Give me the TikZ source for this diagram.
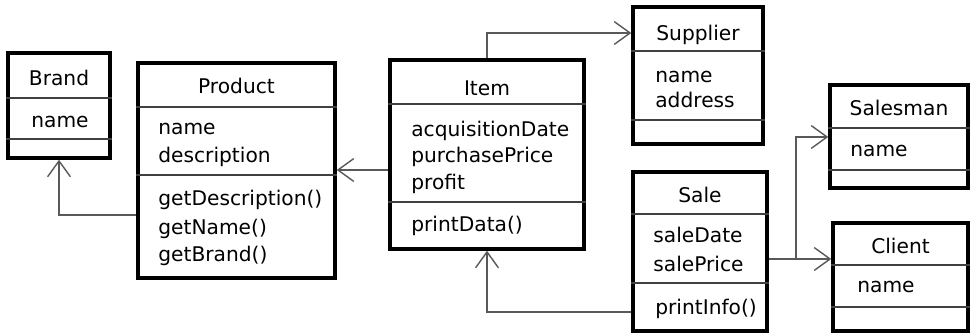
\documentclass[tikz,border=0pt]{standalone}
\usepackage{fontspec}
\setmainfont{DejaVu Sans}
\usetikzlibrary{arrows.meta,fit}

\tikzset{
  cls/.style={draw=black, line width=2pt, inner sep=0pt},
  sep/.style={draw=black!75, line width=0.6pt},
  assoc/.style={draw=black!65, line width=0.8pt,
    -{Straight Barb[length=9pt,width=13pt,line width=0.8pt]}},
  ttl/.style={anchor=base, inner sep=0pt, font=\fontsize{11.5}{13}\selectfont},
  entry/.style={anchor=base west, inner sep=0pt, font=\fontsize{11.5}{13}\selectfont},
}

\begin{document}
\begin{tikzpicture}[x=0.02cm,y=-0.02cm] % Klassendiagramm Warenverkauf
	\useasboundingbox (0,0) rectangle (971,333);

	% Rahmen
	\node[cls, fit={(8,53) (110,158)}] (brand) {};
	\node[cls, fit={(138,63) (335,278)}] (prod) {};
	\node[cls, fit={(390,60) (584,249)}] (item) {};
	\node[cls, fit={(633,7) (763,144)}] (supp) {};
	\node[cls, fit={(633,172) (767,331)}] (sale) {};
	\node[cls, fit={(830,85) (968,188)}] (sman) {};
	\node[cls, fit={(833,223) (968,331)}] (client) {};

	% Trennlinien
	\foreach \k/\a/\b in {brand/98/139, prod/107/175, item/104/202, supp/51/120,
		sale/214/283, sman/128/170, client/265/307} {
		\draw[sep] (\k.west |- 0,\a) -- (\k.east |- 0,\a);
		\draw[sep] (\k.west |- 0,\b) -- (\k.east |- 0,\b);
	}

	% Titel
	\node[ttl] (brand-t) at (brand.north |- 0,86) {Brand};
	\node[ttl] (prod-t) at (prod.north |- 0,94) {Product};
	\node[ttl] (item-t) at (item.north |- 0,96) {Item};
	\node[ttl] (supp-t) at (supp.north |- 0,41) {Supplier};
	\node[ttl] (sale-t) at (sale.north |- 0,203) {Sale};
	\node[ttl] (sman-t) at (sman.north |- 0,116) {Salesman};
	\node[ttl] (client-t) at (client.north |- 0,254) {Client};

	% Attribute und Methoden
	\node[entry] (brand-a1) at (31,128) {name};
	\foreach \t/\y [count=\i] in {name/135, description/163, {getDescription()}/206,
		{getName()}/235, {getBrand()}/262}
		\node[entry] (prod-a\i) at (158,\y) {\t};
	\foreach \t/\y [count=\i] in {acquisitionDate/137, purchasePrice/163, profit/190,
		{printData()}/232}
		\node[entry] (item-a\i) at (411,\y) {\t};
	\node[entry] (supp-a1) at (655,83) {name};
	\node[entry] (supp-a2) at (655,108) {address};
	\node[entry] (sale-a1) at (653,243) {saleDate};
	\node[entry] (sale-a2) at (653,272) {salePrice};
	\node[entry] (sale-a3) at (655,315) {printInfo()};
	\node[entry] (sman-a1) at (850,157) {name};
	\node[entry] (client-a1) at (857,293) {name};

	% Assoziationen
	\coordinate (fork) at (796,259);
	\draw[assoc] (prod.west |- 0,215) -| (brand.south);
	\draw[assoc] (item.west |- 0,170) -- (prod.east |- 0,170);
	\draw[assoc] (item.north) |- (supp.west |- 0,33);
	\draw[assoc] (sale.west |- 0,312) -| (item.south);
	\draw[assoc] (sale.east |- fork) -- (client.west |- fork);
	\draw[assoc] (fork) |- (sman.west |- 0,137);
\end{tikzpicture}
\end{document}
